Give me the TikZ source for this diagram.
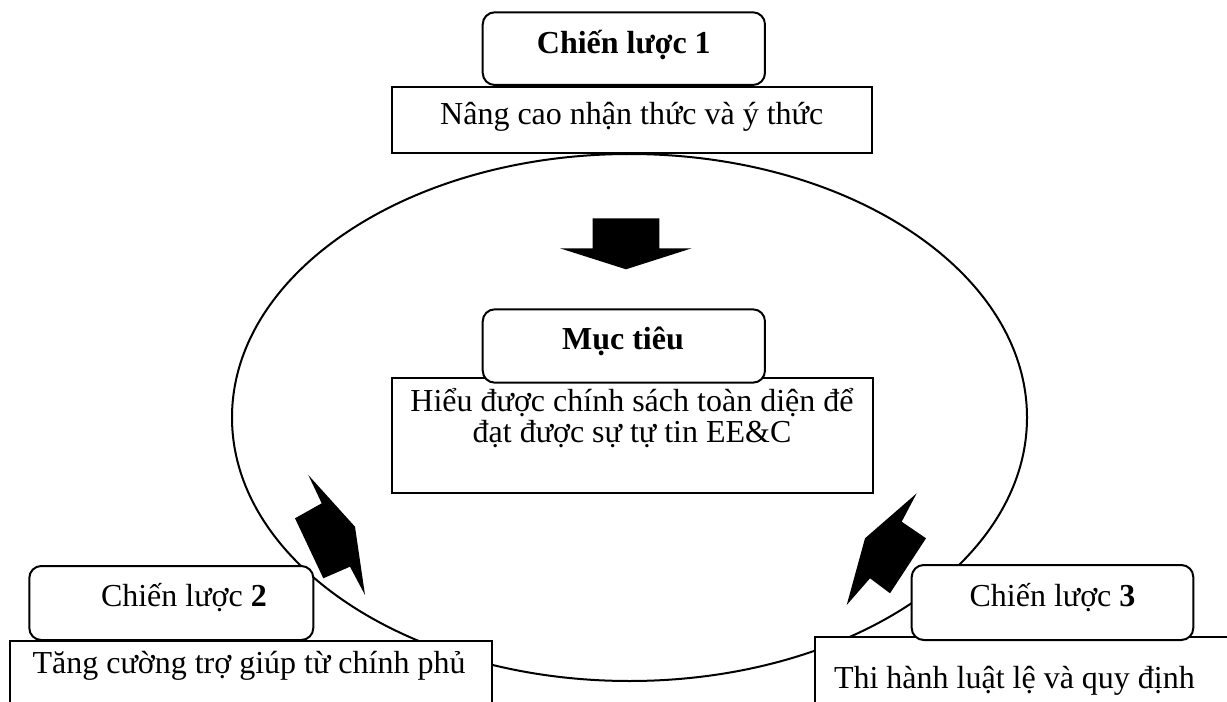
\documentclass[tikz,border=0pt]{standalone}
\usepackage{fontspec}
\setmainfont{Liberation Serif}
\begin{document}
\begin{tikzpicture}[x=0.75pt,y=-0.75pt,line width=1.5pt,
  plainbox/.style={draw=black,fill=white,rectangle,inner sep=0pt},
  roundbox/.style={draw=black,fill=white,rectangle,rounded corners=9pt,inner sep=0pt},
  txt/.style={inner sep=0pt,font=\fontsize{24}{23.25}\selectfont},
  blockarrow/.style={fill=black,draw=none}]
\path[use as bounding box] (0,0) rectangle (1227,702);
\begin{scope}
\clip (0,0) rectangle (1227,702);
% outer cycle
\draw (629.5,417.5) ellipse [x radius=397.5,y radius=263.5];

% strategy 1
\node[plainbox,minimum width=360.2pt,minimum height=49.5pt] (t1) at (631.85,120.3) {};
\node[roundbox,minimum width=211.7pt,minimum height=54.5pt] (r1) at (623.85,48.65) {};
% goal
\node[plainbox,minimum width=361pt,minimum height=86.25pt] (tm) at (632.35,435.8) {};
\node[roundbox,minimum width=211.7pt,minimum height=55pt] (rm) at (623.85,346) {};
% strategy 2
\node[plainbox,minimum width=361.3pt,minimum height=73.9pt] (t2) at (250.85,690.75) {};
\node[roundbox,minimum width=213pt,minimum height=55.5pt] (r2) at (171.3,603) {};
% strategy 3
\node[plainbox,minimum width=333.75pt,minimum height=77pt] (t3) at (1037.5,688.65) {};
\node[roundbox,minimum width=211.2pt,minimum height=56.25pt] (r3) at (1052.5,602.5) {};

% texts
\node[txt,anchor=base] (r1text) at (623.8,53.3) {\bfseries Chiến lược 1};
\node[txt,anchor=base] (t1text) at (631.7,125) {Nâng cao nhận thức và ý thức};
\node[txt,anchor=base] (rmtext) at (623,349.3) {\bfseries Mục tiêu};
\node[txt,anchor=base] (tmtexta) at (632,411.7) {Hiểu được chính sách toàn diện để};
\node[txt,anchor=base] (tmtextb) at (632,442.7) {đạt được sự tự tin EE\&C};
\node[txt,anchor=base west] (r2text) at (100,606.7) {Chiến lược \textbf{2}};
\node[txt,anchor=base] (t2text) at (249,673.3) {Tăng cường trợ giúp từ chính phủ};
\node[txt,anchor=base] (r3text) at (1052.5,606.7) {Chiến lược \textbf{3}};
\node[txt,anchor=base west] (t3text) at (833,688.3) {Thi hành luật lệ và quy định};

% block arrows towards the goal
\fill[blockarrow] (592.7,218.3) -- (659.3,218.3) -- (659.3,248.3) -- (691.7,248.3)
  -- (626,269.3) -- (560,248.3) -- (592.7,248.3) -- cycle;
\fill[blockarrow] (308.3,475) -- (355,526.7) -- (365,595) -- (350,566.7)
  -- (323.3,578.3) -- (295,518.3) -- (321.7,503.3) -- cycle;
\fill[blockarrow] (916.7,493.3) -- (901.7,521.7) -- (926,538.3) -- (890,593.3)
  -- (870,578.3) -- (846.7,605) -- (865,538.3) -- cycle;
\end{scope}
\end{tikzpicture}
\end{document}
